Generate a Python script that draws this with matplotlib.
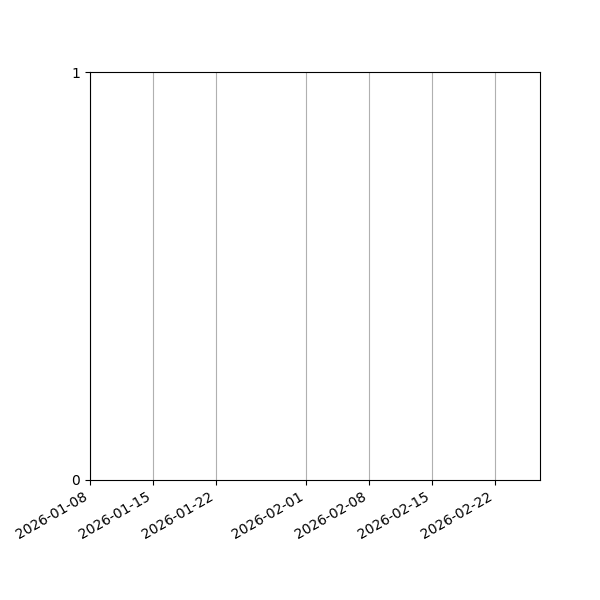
import datetime as dt

import matplotlib
matplotlib.use('Agg')
import matplotlib.dates as mdates
from matplotlib import pyplot as plt

# axis range and ticks
x_start = dt.date(2026, 1, 8)
x_end = dt.date(2026, 2, 27)
x_ticks = [dt.date(2026, 1, 8), dt.date(2026, 1, 15), dt.date(2026, 1, 22),
           dt.date(2026, 2, 1), dt.date(2026, 2, 8), dt.date(2026, 2, 15),
           dt.date(2026, 2, 22)]
y_ticks = [0, 1]

fig, ax = plt.subplots(figsize=(6, 6), dpi=100)

ax.set_xlim(x_start, x_end)
ax.set_ylim(y_ticks[0], y_ticks[-1])
ax.set_xticks(x_ticks)
ax.set_yticks(y_ticks)
ax.xaxis.set_major_formatter(mdates.DateFormatter('%Y-%m-%d'))
ax.grid(True, axis='x')

fig.autofmt_xdate()
fig.subplots_adjust(left=0.15, right=0.9, bottom=0.2, top=0.88)

fig.savefig('out.png', dpi=100)
